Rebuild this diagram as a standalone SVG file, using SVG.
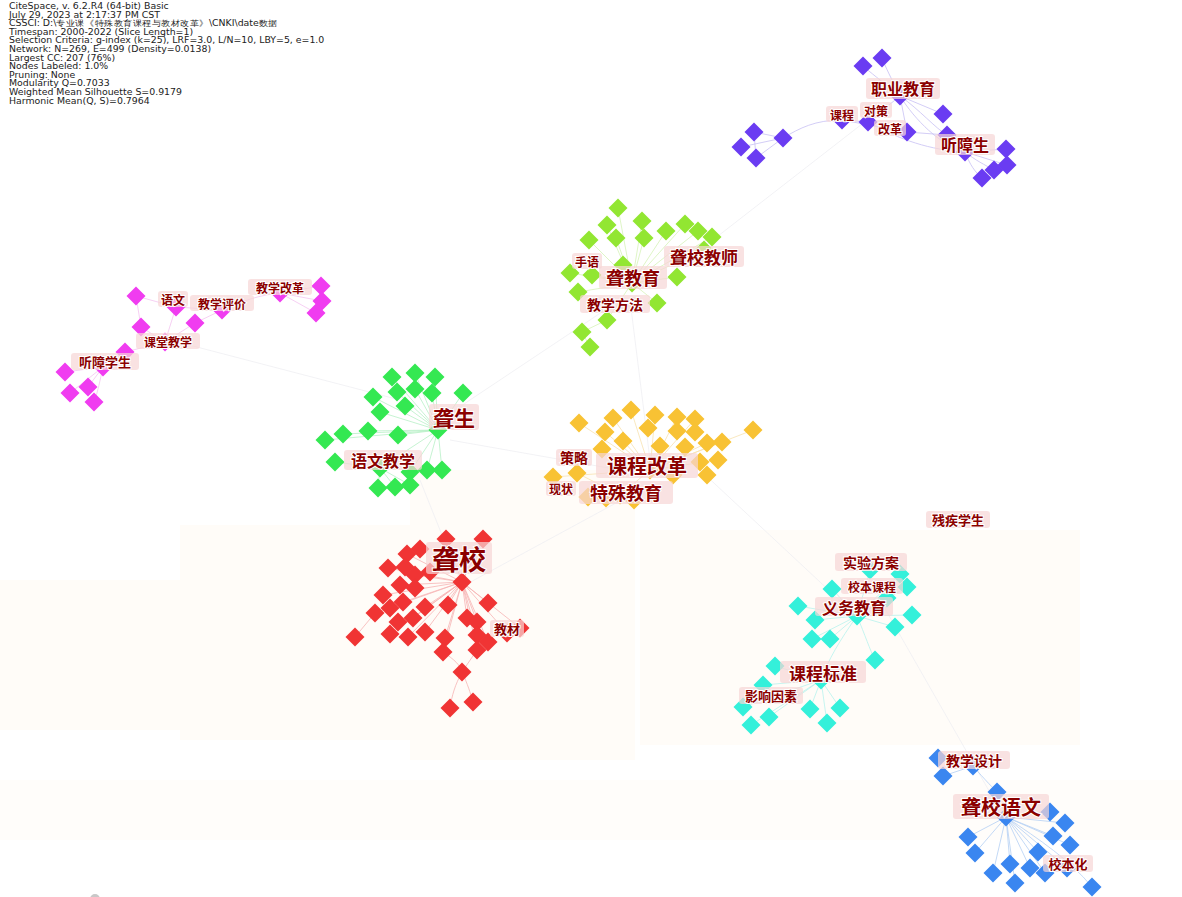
<svg xmlns="http://www.w3.org/2000/svg" xmlns:xlink="http://www.w3.org/1999/xlink" width="1182" height="897" viewBox="0 0 1182 897">
<style>
.hdr{font-family:"DejaVu Sans",Verdana,sans-serif;font-size:8.3px;fill:#222}
.lb rect{fill:#f7d6d6;opacity:.7}
.lb text{font-family:"Noto Sans CJK SC","Noto Sans CJK JP",sans-serif;font-weight:700;fill:#8b0000;stroke:#fff;stroke-width:2px;paint-order:stroke;text-anchor:middle;dominant-baseline:central}
.pu{fill:#6a3cf2}.pk{fill:#f03cf0}.lg{fill:#92e632}.gr{fill:#34e852}.or{fill:#f8c234}.rd{fill:#f03434}.cy{fill:#34f0da}.bl{fill:#3a86f0}
.e line,.e path{fill:none;stroke-width:.8}
.epu{stroke:#c8c0f4}.epk{stroke:#f4c4f0}.elg{stroke:#d6f2b8}.egr{stroke:#b8f0c6}.eor{stroke:#f8e2b0}.erd{stroke:#f6b4b4}.ecy{stroke:#b8f2ee}.ebl{stroke:#b4cff4}
.ef{stroke:#efeff2;stroke-width:.6}
</style>
<defs>
<polygon id="d" points="0,-9.5 9.5,0 0,9.5 -9.5,0"/>
</defs>
<rect width="1182" height="897" fill="#fff"/>
<g id="watermark" fill="#fffcf8">
<rect x="180" y="525" width="230" height="215"/>
<rect x="640" y="530" width="440" height="215"/>
<rect x="410" y="470" width="225" height="290"/>
<rect x="0" y="580" width="180" height="150"/>
<rect x="0" y="780" width="1182" height="60" fill="#fffdfa"/>
</g>
<g id="header" transform="translate(9,0) scale(1.13,1)">
<text class="hdr" x="0" y="9">CiteSpace, v. 6.2.R4 (64-bit) Basic</text>
<text class="hdr" x="0" y="17.6">July 29, 2023 at 2:17:37 PM CST</text>
<text class="hdr" x="0" y="26.2">CSSCI: D:\专业课《特殊教育课程与教材改革》\CNKI\date数据</text>
<text class="hdr" x="0" y="34.8">Timespan: 2000-2022 (Slice Length=1)</text>
<text class="hdr" x="0" y="43.4">Selection Criteria: g-index (k=25), LRF=3.0, L/N=10, LBY=5, e=1.0</text>
<text class="hdr" x="0" y="52">Network: N=269, E=499 (Density=0.0138)</text>
<text class="hdr" x="0" y="60.6">Largest CC: 207 (76%)</text>
<text class="hdr" x="0" y="69.2">Nodes Labeled: 1.0%</text>
<text class="hdr" x="0" y="77.8">Pruning: None</text>
<text class="hdr" x="0" y="86.4">Modularity Q=0.7033</text>
<text class="hdr" x="0" y="95">Weighted Mean Silhouette S=0.9179</text>
<text class="hdr" x="0" y="103.6">Harmonic Mean(Q, S)=0.7964</text>
</g>
<g id="connectors" class="e">
<line class="ef" x1="620" y1="300" x2="440" y2="420"/>
<line class="ef" x1="630" y1="300" x2="650" y2="460"/>
<line class="ef" x1="450" y1="440" x2="620" y2="470"/>
<line class="ef" x1="420" y1="480" x2="460" y2="580"/>
<line class="ef" x1="640" y1="490" x2="465" y2="585"/>
<line class="ef" x1="700" y1="470" x2="850" y2="610"/>
<line class="ef" x1="880" y1="600" x2="1000" y2="810"/>
<line class="ef" x1="700" y1="250" x2="880" y2="110"/>
<line class="ef" x1="400" y1="400" x2="170" y2="340"/>
<g class="epu">
<path d="M900,96 C880,80 870,72 863,66"/><path d="M900,96 C892,80 885,66 882,58"/>
<line x1="900" y1="96" x2="868" y2="122"/><line x1="900" y1="96" x2="907" y2="132"/>
<line x1="900" y1="96" x2="943" y2="114"/><path d="M900,96 C920,110 935,128 947,135"/>
<path d="M900,96 C915,120 940,145 965,152"/><line x1="842" y1="120" x2="868" y2="122"/>
<path d="M842,120 C815,120 800,128 783,138"/><line x1="783" y1="138" x2="754" y2="132"/>
<line x1="783" y1="138" x2="741" y2="147"/><line x1="783" y1="138" x2="756" y2="158"/>
<line x1="754" y1="132" x2="756" y2="158"/><line x1="965" y1="152" x2="1006" y2="149"/>
<line x1="965" y1="152" x2="1007" y2="165"/><path d="M965,152 C975,160 985,165 994,170"/>
<path d="M965,152 C970,165 975,172 982,178"/><path d="M868,122 C900,140 930,150 965,152"/>
<line x1="907" y1="132" x2="947" y2="135"/><line x1="842" y1="120" x2="907" y2="132"/>
</g>
<g class="epk">
<line x1="136" y1="296" x2="176" y2="307"/><line x1="176" y1="307" x2="222" y2="310"/>
<path d="M222,310 C245,300 260,295 280,293"/><line x1="280" y1="293" x2="321" y2="286"/>
<line x1="280" y1="293" x2="322" y2="301"/><line x1="280" y1="293" x2="316" y2="313"/>
<line x1="176" y1="307" x2="165" y2="342"/><line x1="141" y1="327" x2="165" y2="342"/>
<line x1="195" y1="323" x2="222" y2="310"/><line x1="165" y1="342" x2="125" y2="352"/>
<line x1="125" y1="352" x2="103" y2="367"/><line x1="103" y1="367" x2="65" y2="372"/>
<line x1="103" y1="367" x2="70" y2="393"/><line x1="103" y1="367" x2="88" y2="387"/>
<path d="M103,367 C100,380 98,392 94,402"/><line x1="136" y1="296" x2="141" y2="327"/>
<line x1="165" y1="342" x2="195" y2="323"/>
</g>
<g class="elg">
<line x1="632" y1="283" x2="618" y2="208"/><line x1="632" y1="283" x2="607" y2="225"/>
<line x1="632" y1="283" x2="642" y2="221"/><line x1="632" y1="283" x2="589" y2="240"/>
<line x1="632" y1="283" x2="616" y2="238"/><line x1="632" y1="283" x2="644" y2="238"/>
<line x1="632" y1="283" x2="666" y2="231"/><line x1="632" y1="283" x2="685" y2="224"/>
<line x1="632" y1="283" x2="698" y2="231"/><line x1="632" y1="283" x2="712" y2="237"/>
<line x1="632" y1="283" x2="704" y2="250"/><line x1="632" y1="283" x2="570" y2="273"/>
<line x1="632" y1="283" x2="592" y2="275"/><line x1="632" y1="283" x2="677" y2="277"/>
<line x1="632" y1="283" x2="578" y2="292"/><line x1="632" y1="283" x2="657" y2="303"/>
<line x1="632" y1="283" x2="607" y2="320"/><line x1="607" y1="320" x2="582" y2="332"/>
<line x1="582" y1="332" x2="590" y2="347"/><line x1="632" y1="283" x2="623" y2="265"/>
</g>
<g class="egr">
<line x1="438" y1="430" x2="392" y2="377"/><line x1="438" y1="430" x2="415" y2="373"/>
<line x1="438" y1="430" x2="435" y2="377"/><line x1="438" y1="430" x2="397" y2="392"/>
<line x1="438" y1="430" x2="415" y2="389"/><line x1="438" y1="430" x2="432" y2="393"/>
<line x1="438" y1="430" x2="463" y2="393"/><line x1="438" y1="430" x2="373" y2="397"/>
<line x1="438" y1="430" x2="380" y2="412"/><line x1="438" y1="430" x2="405" y2="406"/>
<line x1="438" y1="430" x2="325" y2="440"/><line x1="438" y1="430" x2="343" y2="434"/>
<line x1="438" y1="430" x2="368" y2="431"/><line x1="438" y1="430" x2="398" y2="435"/>
<line x1="438" y1="430" x2="380" y2="468"/><line x1="438" y1="430" x2="410" y2="472"/>
<line x1="438" y1="430" x2="427" y2="470"/><line x1="438" y1="430" x2="442" y2="470"/>
<line x1="380" y1="468" x2="335" y2="462"/><line x1="380" y1="468" x2="378" y2="488"/>
<line x1="380" y1="468" x2="395" y2="487"/><line x1="380" y1="468" x2="410" y2="485"/>
</g>
<g class="eor">
<line x1="650" y1="470" x2="579" y2="423"/><line x1="650" y1="470" x2="613" y2="418"/>
<line x1="650" y1="470" x2="631" y2="410"/><line x1="650" y1="470" x2="655" y2="415"/>
<line x1="650" y1="470" x2="677" y2="417"/><line x1="650" y1="470" x2="695" y2="419"/>
<line x1="650" y1="470" x2="753" y2="430"/><line x1="650" y1="470" x2="605" y2="432"/>
<line x1="650" y1="470" x2="623" y2="441"/><line x1="650" y1="470" x2="722" y2="442"/>
<line x1="650" y1="470" x2="707" y2="443"/><line x1="650" y1="470" x2="718" y2="460"/>
<line x1="650" y1="470" x2="553" y2="477"/><line x1="620" y1="495" x2="577" y2="473"/>
<line x1="620" y1="495" x2="650" y2="470"/><line x1="620" y1="495" x2="588" y2="497"/>
</g>
<g class="erd">
<line x1="462" y1="582" x2="446" y2="539"/><line x1="462" y1="582" x2="483" y2="539"/>
<line x1="462" y1="582" x2="407" y2="554"/><line x1="462" y1="582" x2="388" y2="568"/>
<line x1="462" y1="582" x2="415" y2="575"/><line x1="462" y1="582" x2="400" y2="585"/>
<line x1="462" y1="582" x2="383" y2="595"/><line x1="462" y1="582" x2="403" y2="602"/>
<line x1="462" y1="582" x2="425" y2="607"/><line x1="462" y1="582" x2="448" y2="605"/>
<line x1="462" y1="582" x2="488" y2="603"/><line x1="462" y1="582" x2="375" y2="613"/>
<line x1="462" y1="582" x2="413" y2="618"/><line x1="462" y1="582" x2="467" y2="618"/>
<line x1="462" y1="582" x2="477" y2="622"/><line x1="462" y1="582" x2="390" y2="634"/>
<line x1="462" y1="582" x2="408" y2="637"/><line x1="462" y1="582" x2="425" y2="632"/>
<line x1="462" y1="582" x2="445" y2="638"/><line x1="462" y1="582" x2="477" y2="635"/>
<line x1="462" y1="582" x2="507" y2="633"/><line x1="462" y1="582" x2="488" y2="642"/>
<line x1="462" y1="582" x2="443" y2="652"/><line x1="462" y1="582" x2="477" y2="650"/>
<line x1="462" y1="582" x2="520" y2="628"/><line x1="375" y1="613" x2="355" y2="637"/>
<path d="M443,652 C455,660 460,665 462,672"/><path d="M462,672 C455,685 452,695 450,708"/>
<path d="M462,672 C468,685 470,692 473,702"/><line x1="477" y1="650" x2="462" y2="672"/>
</g>
<g class="ecy">
<line x1="857" y1="616" x2="870" y2="570"/><line x1="857" y1="616" x2="900" y2="574"/>
<line x1="857" y1="616" x2="907" y2="587"/><line x1="857" y1="616" x2="832" y2="589"/>
<line x1="857" y1="616" x2="887" y2="598"/><line x1="857" y1="616" x2="798" y2="606"/>
<line x1="857" y1="616" x2="912" y2="615"/><line x1="857" y1="616" x2="815" y2="620"/>
<line x1="857" y1="616" x2="895" y2="627"/><line x1="857" y1="616" x2="812" y2="639"/>
<line x1="857" y1="616" x2="830" y2="639"/><path d="M857,616 C865,635 870,650 875,660"/>
<path d="M857,616 C840,640 828,660 821,680"/><line x1="821" y1="680" x2="775" y2="666"/>
<line x1="821" y1="680" x2="763" y2="685"/><line x1="821" y1="680" x2="743" y2="707"/>
<line x1="821" y1="680" x2="769" y2="717"/><line x1="821" y1="680" x2="810" y2="709"/>
<line x1="821" y1="680" x2="840" y2="708"/><line x1="821" y1="680" x2="751" y2="725"/>
<line x1="821" y1="680" x2="827" y2="723"/>
</g>
<g class="ebl">
<path d="M973,766 C985,780 995,790 997,792"/><line x1="973" y1="766" x2="938" y2="758"/>
<line x1="973" y1="766" x2="943" y2="776"/><line x1="1006" y1="817" x2="997" y2="792"/>
<line x1="1006" y1="817" x2="1050" y2="812"/><line x1="1006" y1="817" x2="1065" y2="823"/>
<line x1="1006" y1="817" x2="968" y2="837"/><line x1="1006" y1="817" x2="1053" y2="836"/>
<line x1="1006" y1="817" x2="1070" y2="845"/><line x1="1006" y1="817" x2="975" y2="853"/>
<line x1="1006" y1="817" x2="1038" y2="852"/><line x1="1006" y1="817" x2="1010" y2="864"/>
<line x1="1006" y1="817" x2="1030" y2="868"/><line x1="1006" y1="817" x2="993" y2="873"/>
<line x1="1006" y1="817" x2="1045" y2="873"/><line x1="1006" y1="817" x2="1067" y2="868"/>
<line x1="1006" y1="817" x2="1015" y2="883"/><path d="M1006,817 C1040,840 1070,860 1092,887"/>
</g>
</g>
<g id="cluster-purple" class="pu">
<use href="#d" x="863" y="66"/><use href="#d" x="882" y="58"/><use href="#d" x="900" y="96"/><use href="#d" x="868" y="122"/><use href="#d" x="842" y="120"/><use href="#d" x="907" y="132"/><use href="#d" x="943" y="114"/><use href="#d" x="947" y="135"/><use href="#d" x="965" y="152"/><use href="#d" x="1006" y="149"/><use href="#d" x="1007" y="165"/><use href="#d" x="994" y="170"/><use href="#d" x="982" y="178"/><use href="#d" x="783" y="138"/><use href="#d" x="754" y="132"/><use href="#d" x="741" y="147"/><use href="#d" x="756" y="158"/>
</g>
<g id="cluster-pink" class="pk">
<use href="#d" x="136" y="296"/><use href="#d" x="176" y="307"/><use href="#d" x="222" y="310"/><use href="#d" x="195" y="323"/><use href="#d" x="141" y="327"/><use href="#d" x="165" y="342"/><use href="#d" x="125" y="352"/><use href="#d" x="103" y="367"/><use href="#d" x="65" y="372"/><use href="#d" x="70" y="393"/><use href="#d" x="88" y="387"/><use href="#d" x="94" y="402"/><use href="#d" x="280" y="293"/><use href="#d" x="321" y="286"/><use href="#d" x="322" y="301"/><use href="#d" x="316" y="313"/>
</g>
<g id="cluster-lightgreen" class="lg">
<use href="#d" x="618" y="208"/><use href="#d" x="607" y="225"/><use href="#d" x="642" y="221"/><use href="#d" x="589" y="240"/><use href="#d" x="616" y="238"/><use href="#d" x="644" y="238"/><use href="#d" x="666" y="231"/><use href="#d" x="685" y="224"/><use href="#d" x="698" y="231"/><use href="#d" x="712" y="237"/><use href="#d" x="704" y="250"/><use href="#d" x="623" y="265"/><use href="#d" x="570" y="273"/><use href="#d" x="592" y="275"/><use href="#d" x="632" y="283"/><use href="#d" x="677" y="277"/><use href="#d" x="578" y="292"/><use href="#d" x="657" y="303"/><use href="#d" x="607" y="320"/><use href="#d" x="582" y="332"/><use href="#d" x="590" y="347"/>
</g>
<g id="cluster-green" class="gr">
<use href="#d" x="392" y="377"/><use href="#d" x="415" y="373"/><use href="#d" x="435" y="377"/><use href="#d" x="397" y="392"/><use href="#d" x="415" y="389"/><use href="#d" x="432" y="393"/><use href="#d" x="463" y="393"/><use href="#d" x="373" y="397"/><use href="#d" x="380" y="412"/><use href="#d" x="405" y="406"/><use href="#d" x="438" y="430"/><use href="#d" x="325" y="440"/><use href="#d" x="343" y="434"/><use href="#d" x="368" y="431"/><use href="#d" x="398" y="435"/><use href="#d" x="335" y="462"/><use href="#d" x="380" y="468"/><use href="#d" x="410" y="472"/><use href="#d" x="427" y="470"/><use href="#d" x="442" y="470"/><use href="#d" x="378" y="488"/><use href="#d" x="395" y="487"/><use href="#d" x="410" y="485"/>
</g>
<g id="cluster-orange" class="or">
<use href="#d" x="579" y="423"/><use href="#d" x="613" y="418"/><use href="#d" x="631" y="410"/><use href="#d" x="655" y="415"/><use href="#d" x="677" y="417"/><use href="#d" x="695" y="419"/><use href="#d" x="753" y="430"/><use href="#d" x="605" y="432"/><use href="#d" x="623" y="441"/><use href="#d" x="648" y="428"/><use href="#d" x="677" y="431"/><use href="#d" x="695" y="432"/><use href="#d" x="707" y="443"/><use href="#d" x="722" y="442"/><use href="#d" x="602" y="449"/><use href="#d" x="660" y="446"/><use href="#d" x="685" y="447"/><use href="#d" x="718" y="460"/><use href="#d" x="700" y="462"/><use href="#d" x="553" y="477"/><use href="#d" x="707" y="475"/><use href="#d" x="673" y="475"/><use href="#d" x="577" y="473"/><use href="#d" x="650" y="470"/><use href="#d" x="588" y="497"/><use href="#d" x="606" y="498"/><use href="#d" x="634" y="500"/><use href="#d" x="620" y="495"/>
</g>
<g id="cluster-red" class="rd">
<use href="#d" x="446" y="539"/><use href="#d" x="483" y="539"/><use href="#d" x="420" y="549"/><use href="#d" x="407" y="554"/><use href="#d" x="388" y="568"/><use href="#d" x="405" y="567"/><use href="#d" x="415" y="575"/><use href="#d" x="430" y="572"/><use href="#d" x="462" y="582"/><use href="#d" x="400" y="585"/><use href="#d" x="415" y="588"/><use href="#d" x="383" y="595"/><use href="#d" x="403" y="602"/><use href="#d" x="425" y="607"/><use href="#d" x="390" y="608"/><use href="#d" x="448" y="605"/><use href="#d" x="488" y="603"/><use href="#d" x="375" y="613"/><use href="#d" x="413" y="618"/><use href="#d" x="398" y="622"/><use href="#d" x="467" y="618"/><use href="#d" x="477" y="622"/><use href="#d" x="355" y="637"/><use href="#d" x="390" y="634"/><use href="#d" x="408" y="637"/><use href="#d" x="425" y="632"/><use href="#d" x="445" y="638"/><use href="#d" x="477" y="635"/><use href="#d" x="488" y="642"/><use href="#d" x="507" y="633"/><use href="#d" x="520" y="628"/><use href="#d" x="443" y="652"/><use href="#d" x="477" y="650"/><use href="#d" x="462" y="672"/><use href="#d" x="450" y="708"/><use href="#d" x="473" y="702"/>
</g>
<g id="cluster-cyan" class="cy">
<use href="#d" x="870" y="570"/><use href="#d" x="900" y="574"/><use href="#d" x="907" y="587"/><use href="#d" x="832" y="589"/><use href="#d" x="887" y="598"/><use href="#d" x="798" y="606"/><use href="#d" x="857" y="616"/><use href="#d" x="912" y="615"/><use href="#d" x="815" y="620"/><use href="#d" x="895" y="627"/><use href="#d" x="812" y="639"/><use href="#d" x="830" y="639"/><use href="#d" x="875" y="660"/><use href="#d" x="775" y="666"/><use href="#d" x="821" y="680"/><use href="#d" x="763" y="685"/><use href="#d" x="743" y="707"/><use href="#d" x="769" y="717"/><use href="#d" x="810" y="709"/><use href="#d" x="840" y="708"/><use href="#d" x="751" y="725"/><use href="#d" x="827" y="723"/>
</g>
<g id="cluster-blue" class="bl">
<use href="#d" x="938" y="758"/><use href="#d" x="973" y="766"/><use href="#d" x="943" y="776"/><use href="#d" x="997" y="792"/><use href="#d" x="1050" y="812"/><use href="#d" x="1006" y="817"/><use href="#d" x="1065" y="823"/><use href="#d" x="968" y="837"/><use href="#d" x="1053" y="836"/><use href="#d" x="1070" y="845"/><use href="#d" x="975" y="853"/><use href="#d" x="1038" y="852"/><use href="#d" x="1010" y="864"/><use href="#d" x="1030" y="868"/><use href="#d" x="993" y="873"/><use href="#d" x="1045" y="873"/><use href="#d" x="1067" y="868"/><use href="#d" x="1015" y="883"/><use href="#d" x="1092" y="887"/>
</g>
<g id="labels" class="lb">
<g id="l-zhiyejiaoyu"><rect x="866" y="78" width="74" height="21" rx="3"/><text x="903" y="88" font-size="16">职业教育</text></g>
<g id="l-kecheng"><rect x="826" y="106" width="32" height="16" rx="3"/><text x="842" y="114" font-size="12">课程</text></g>
<g id="l-duice"><rect x="860" y="102" width="32" height="16" rx="3"/><text x="876" y="110" font-size="12">对策</text></g>
<g id="l-gaige"><rect x="874" y="120" width="32" height="16" rx="3"/><text x="890" y="128" font-size="12">改革</text></g>
<g id="l-tingzhangsheng"><rect x="935" y="134" width="60" height="21" rx="3"/><text x="965" y="144" font-size="16">听障生</text></g>
<g id="l-yuwen"><rect x="158" y="291" width="30" height="16" rx="3"/><text x="173" y="299" font-size="12">语文</text></g>
<g id="l-jiaoxuepingjia"><rect x="190" y="295" width="64" height="16" rx="3"/><text x="222" y="303" font-size="12">教学评价</text></g>
<g id="l-jiaoxuegaige"><rect x="248" y="279" width="64" height="16" rx="3"/><text x="280" y="287" font-size="12">教学改革</text></g>
<g id="l-ketangjiaoxue"><rect x="136" y="333" width="64" height="16" rx="3"/><text x="168" y="341" font-size="12">课堂教学</text></g>
<g id="l-tingzhangxuesheng"><rect x="71" y="353" width="68" height="17" rx="3"/><text x="105" y="361" font-size="13">听障学生</text></g>
<g id="l-shouyu"><rect x="572" y="253" width="30" height="16" rx="3"/><text x="587" y="261" font-size="12">手语</text></g>
<g id="l-longjiaoyu"><rect x="599" y="266" width="68" height="23" rx="3"/><text x="633" y="277" font-size="18">聋教育</text></g>
<g id="l-longxiaojiaoshi"><rect x="664" y="246" width="80" height="21" rx="3"/><text x="704" y="256" font-size="17">聋校教师</text></g>
<g id="l-jiaoxuefangfa"><rect x="580" y="295" width="70" height="18" rx="3"/><text x="615" y="304" font-size="14">教学方法</text></g>
<g id="l-longsheng"><rect x="429" y="404" width="50" height="26" rx="3"/><text x="454" y="417" font-size="21">聋生</text></g>
<g id="l-yuwenjiaoxue"><rect x="344" y="450" width="78" height="20" rx="3"/><text x="383" y="460" font-size="16">语文教学</text></g>
<g id="l-celue"><rect x="556" y="449" width="36" height="17" rx="3"/><text x="574" y="457" font-size="14">策略</text></g>
<g id="l-kechenggaige"><rect x="596" y="453" width="102" height="25" rx="3"/><text x="647" y="465" font-size="20">课程改革</text></g>
<g id="l-xianzhuang"><rect x="546" y="481" width="30" height="15" rx="3"/><text x="561" y="488" font-size="12">现状</text></g>
<g id="l-teshujiaoyu"><rect x="579" y="481" width="94" height="23" rx="3"/><text x="626" y="492" font-size="18">特殊教育</text></g>
<g id="l-longxiao"><rect x="426" y="542" width="66" height="32" rx="3"/><text x="459" y="558" font-size="27">聋校</text></g>
<g id="l-jiaocai"><rect x="490" y="620" width="34" height="17" rx="3"/><text x="507" y="628" font-size="13">教材</text></g>
<g id="l-canjixuesheng"><rect x="926" y="511" width="64" height="17" rx="3"/><text x="958" y="519" font-size="13">残疾学生</text></g>
<g id="l-shiyanfangan"><rect x="835" y="553" width="72" height="18" rx="3"/><text x="871" y="562" font-size="14">实验方案</text></g>
<g id="l-xiaobenkecheng"><rect x="841" y="578" width="62" height="16" rx="3"/><text x="872" y="586" font-size="12">校本课程</text></g>
<g id="l-yiwujiaoyu"><rect x="815" y="597" width="78" height="19" rx="3"/><text x="854" y="606.5" font-size="16">义务教育</text></g>
<g id="l-kechengbiaozhun"><rect x="780" y="661" width="86" height="22" rx="3"/><text x="823" y="672" font-size="17">课程标准</text></g>
<g id="l-yingxiangyinsu"><rect x="739" y="687" width="64" height="17" rx="3"/><text x="771" y="695" font-size="13">影响因素</text></g>
<g id="l-jiaoxuesheji"><rect x="938" y="751" width="72" height="18" rx="3"/><text x="974" y="760" font-size="14">教学设计</text></g>
<g id="l-longxiaoyuwen"><rect x="953" y="794" width="96" height="25" rx="3"/><text x="1001" y="806" font-size="20">聋校语文</text></g>
<g id="l-xiaobenhua"><rect x="1043" y="855" width="50" height="17" rx="3"/><text x="1068" y="863" font-size="13">校本化</text></g>
</g>
<circle cx="95" cy="899" r="5" fill="#c8c8c8"/>
</svg>
